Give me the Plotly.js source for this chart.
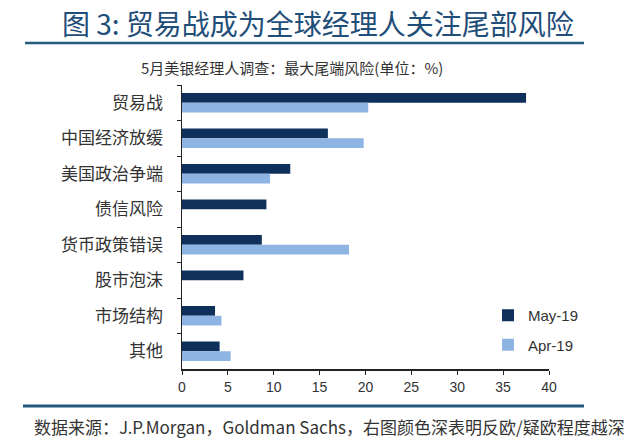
<!DOCTYPE html>
<html>
<head>
<meta charset="utf-8">
<script src="https://cdn.plot.ly/plotly-3.0.1.min.js"></script>
<style>html,body{margin:0;padding:0;background:#fff;}</style>
</head>
<body>
<div id="chart" style="width:641px;height:447px;"></div>
<script>
const categories = ["贸易战", "中国经济放缓", "美国政治争端", "债信风险", "货币政策错误", "股市泡沫", "市场结构", "其他"];
const may19 = [37.5, 15.9, 11.8, 9.2, 8.7, 6.7, 3.6, 4.1];
const apr19 = [20.3, 19.8, 9.6, 0, 18.2, 0, 4.3, 5.3];
const seriesNames = ["May-19", "Apr-19"];
const xTicks = [0, 5, 10, 15, 20, 25, 30, 35, 40];
const titleText = "图 3: 贸易战成为全球经理人关注尾部风险";
const subtitleText = "5月美银经理人调查：最大尾端风险(单位：%)";
const sourceText = "数据来源：J.P.Morgan，Goldman Sachs，右图颜色深表明反欧/疑欧程度越深";

const W = 641, H = 447;
const px = x => x / W;
const py = y => 1 - y / H;
const cjk = '"Noto Sans CJK SC", "Noto Sans", sans-serif';
const narrow = '"Liberation Sans Narrow", "Liberation Sans", Arial, sans-serif';

const traces = [
  {type: 'bar', orientation: 'h', name: seriesNames[0], y: categories, x: may19,
   marker: {color: '#10305C'}, legendgroup: 'a', hoverinfo: 'x+y'},
  {type: 'bar', orientation: 'h', name: seriesNames[1], y: categories, x: apr19,
   marker: {color: '#8EB4E3'}, legendgroup: 'b', hoverinfo: 'x+y'}
];

const layout = {
  width: W, height: H, autosize: false,
  margin: {l: 0, r: 0, t: 0, b: 0, pad: 0},
  paper_bgcolor: '#ffffff', plot_bgcolor: '#ffffff',
  barmode: 'group', bargap: 0.45, bargroupgap: 0,
  font: {family: cjk, color: '#333333'},
  xaxis: {
    domain: [px(182), px(549)], range: [0, 40], tickvals: xTicks,
    showgrid: false, zeroline: false, showline: true, linecolor: '#222222', linewidth: 1.5,
    ticks: 'outside', ticklen: 4, tickcolor: '#222222', tickwidth: 1,
    tickfont: {family: narrow, size: 14, color: '#333333'}, ticklabelstandoff: 1,
    fixedrange: true
  },
  yaxis: {
    domain: [py(369), py(85)], autorange: 'reversed', type: 'category',
    showgrid: false, zeroline: false, showline: true, linecolor: '#222222', linewidth: 1.5,
    ticks: 'outside', tickson: 'boundaries', ticklen: 4, tickcolor: '#222222',
    tickfont: {family: cjk, size: 17, color: '#333333'}, ticklabelstandoff: 14,
    fixedrange: true
  },
  showlegend: true,
  legend: {
    x: px(488), y: py(299), xanchor: 'left', yanchor: 'top',
    bgcolor: 'rgba(0,0,0,0)', borderwidth: 0,
    traceorder: 'grouped', tracegroupgap: 7,
    font: {family: narrow, size: 15, color: '#333333'}
  },
  shapes: [
    {type: 'line', xref: 'paper', yref: 'paper', x0: px(25), x1: px(584), y0: py(43), y1: py(43),
     line: {color: '#245A7C', width: 2.5}},
    {type: 'line', xref: 'paper', yref: 'paper', x0: px(23), x1: px(584), y0: py(406), y1: py(406),
     line: {color: '#245A7C', width: 3}}
  ],
  annotations: [
    {text: titleText, xref: 'paper', yref: 'paper', x: px(318), y: py(23), xanchor: 'center', yanchor: 'middle',
     showarrow: false, font: {family: cjk, size: 28, color: '#1F4E79'}},
    {text: subtitleText, xref: 'paper', yref: 'paper', x: px(139), y: py(68), xanchor: 'left', yanchor: 'middle',
     showarrow: false, font: {family: cjk, size: 15, color: '#333333'}},
    {text: sourceText, xref: 'paper', yref: 'paper', x: px(32), y: py(426), xanchor: 'left', yanchor: 'middle',
     showarrow: false, font: {family: cjk, size: 17, color: '#333333'}}
  ]
};

Plotly.newPlot('chart', traces, layout, {displayModeBar: false, staticPlot: true});
</script>
</body>
</html>
